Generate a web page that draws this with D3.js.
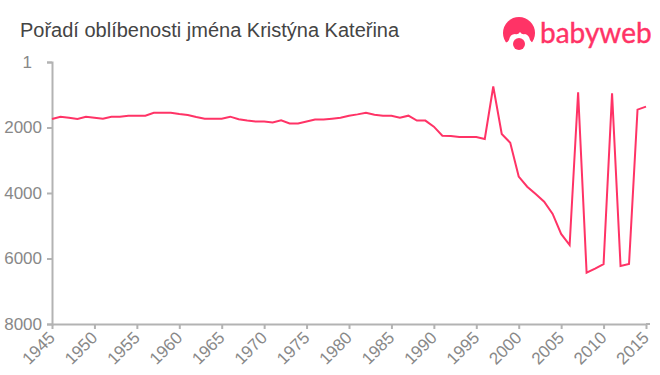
<!DOCTYPE html>
<html>
<head>
<meta charset="utf-8">
<script src="https://cdn.jsdelivr.net/npm/d3@7"></script>
<style>
  html, body { margin: 0; padding: 0; background: #fff; }
  text { font-family: "Liberation Sans", Arial, sans-serif; }
</style>
</head>
<body>
<div id="chart"></div>
<script>
const titleText = "Pořadí oblíbenosti jména Kristýna Kateřina";
const logoText = "babyweb";
const years = d3.range(1945, 2016);
const ranks = [
  1740, 1670, 1700, 1740, 1670, 1700, 1730, 1670, 1670, 1640,
  1640, 1640, 1550, 1550, 1550, 1590, 1620, 1680, 1730, 1730,
  1730, 1670, 1750, 1790, 1820, 1820, 1850, 1780, 1880, 1880,
  1820, 1760, 1760, 1730, 1700, 1640, 1600, 1550, 1610, 1640,
  1640, 1700, 1640, 1790, 1790, 1975, 2250, 2260, 2290, 2290,
  2290, 2350, 750, 2200, 2465, 3500, 3810, 4030, 4265, 4640,
  5250, 5590, 925, 6435, 6310, 6170, 960, 6230, 6170, 1455,
  1365
];
const yTicks = [1, 2000, 4000, 6000, 8000];
const xTicks = d3.range(1945, 2016, 5);

const width = 660, height = 375;
const margin = {top: 62, right: 14, bottom: 51, left: 52};
const pink = "#ff3366";
const axisGray = "#b3b3b3";

let svg = d3.select("#chart").append("svg")
  .attr("width", width)
  .attr("height", height)
  .style("display", "block");

let x = d3.scaleLinear().domain([1945, 2015]).range([margin.left, width - margin.right]);
let y = d3.scaleLinear().domain([1, 8000]).range([margin.top, height - margin.bottom]);

svg.append("text")
  .attr("x", 20)
  .attr("y", 37)
  .style("font-size", "20px")
  .style("fill", "#444")
  .text(titleText);

// y axis
let yAxis = svg.append("g")
  .attr("transform", `translate(${margin.left},0)`)
  .call(d3.axisLeft(y).tickValues(yTicks).tickFormat(d3.format("d")).tickSize(5).tickPadding(5));

// the "1" label sits further out in the original
yAxis.selectAll(".tick text")
  .filter(d => d === 1)
  .attr("dx", -10);

// x axis
let xAxis = svg.append("g")
  .attr("transform", `translate(0,${height - margin.bottom})`)
  .call(d3.axisBottom(x).tickValues(xTicks).tickFormat(d3.format("d")).tickSize(5).tickSizeOuter(0));

// baseline runs a little past the last tick
xAxis.append("line")
  .attr("x1", width - margin.right)
  .attr("x2", width - margin.right + 4);

xAxis.selectAll(".tick text")
  .attr("transform", "rotate(-45)")
  .attr("text-anchor", "end")
  .attr("x", -8)
  .attr("y", 13)
  .attr("dy", 0);

[xAxis, yAxis].forEach(function(a) {
  a.selectAll("path, line").style("stroke", axisGray).style("stroke-width", 2);
  a.selectAll("text").style("font-size", "17px").style("fill", "#888");
});

svg.append("path")
  .datum(years)
  .attr("fill", "none")
  .attr("stroke", pink)
  .attr("stroke-width", 2)
  .attr("d", d3.line().x(d => x(d)).y((d, i) => y(ranks[i])));

// logo
let logo = svg.append("g").attr("fill", pink);
logo.append("circle").attr("cx", 519).attr("cy", 33).attr("r", 16);
logo.append("path").attr("fill", "#fff")
  .attr("d", "M503 50 L503 42 Q507 44 509 40 Q510 34 515 34 Q518 35 520 32 Q522 35 525 34 Q529 35 530 40 Q532 44 536 42 L536 50 Z");
logo.append("circle").attr("cx", 519).attr("cy", 44).attr("r", 6);
logo.append("text")
  .attr("x", 540)
  .attr("y", 43)
  .style("font-family", "Lato, sans-serif")
  .style("font-size", "28px")
  .style("stroke", pink)
  .style("stroke-width", 0.4)
  .text(logoText);
</script>
</body>
</html>
